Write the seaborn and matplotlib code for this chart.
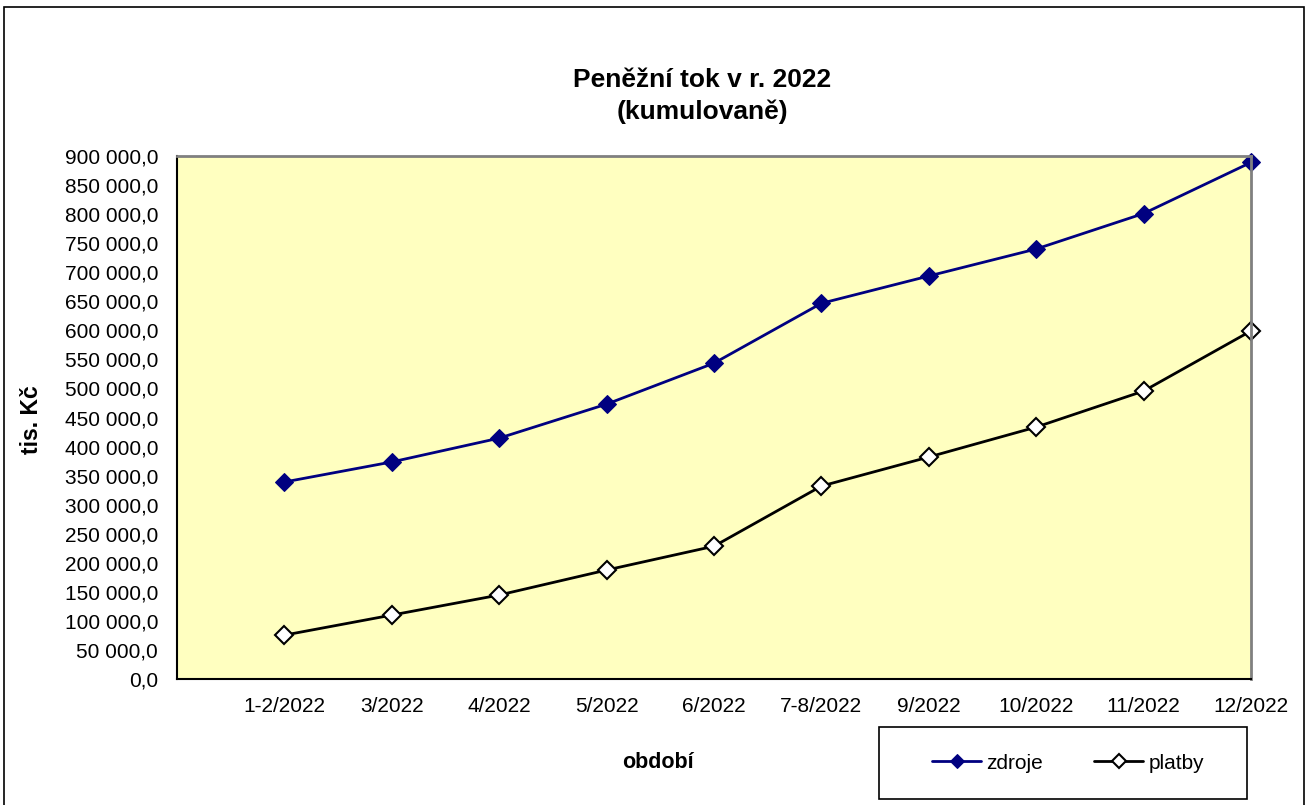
import matplotlib
matplotlib.use('Agg')
import matplotlib.pyplot as plt
import seaborn as sns
import pandas as pd
from matplotlib.patches import Rectangle

# data (tis. Kč, cumulative)
periods = ['1-2/2022', '3/2022', '4/2022', '5/2022', '6/2022',
           '7-8/2022', '9/2022', '10/2022', '11/2022', '12/2022']
zdroje = [339000, 373500, 414500, 473000, 543500, 646500, 693500, 740000, 801000, 889000]
platby = [75500, 110000, 144500, 187500, 228500, 332000, 382000, 433500, 495500, 599000]

df = pd.DataFrame({'pos': range(1, len(periods) + 1), 'zdroje': zdroje, 'platby': platby})

sns.set_style('white')
plt.rcParams['font.family'] = ['Liberation Sans', 'DejaVu Sans']
for key in ['text.color', 'axes.labelcolor', 'xtick.color', 'ytick.color']:
    plt.rcParams[key] = 'black'

fig = plt.figure(figsize=(13.09, 8.05), dpi=100)
ax = fig.add_axes([177 / 1309, 1 - 679 / 805, (1251 - 177) / 1309, (679 - 156) / 805])
ax.set_facecolor('#FFFFC0')

sns.lineplot(data=df, x='pos', y='zdroje', ax=ax, color='#000080', linewidth=2,
             marker='D', markersize=9, markerfacecolor='#000080', markeredgecolor='#000080',
             label='zdroje', clip_on=False)
sns.lineplot(data=df, x='pos', y='platby', ax=ax, color='black', linewidth=2,
             marker='D', markersize=9, markerfacecolor='white', markeredgecolor='black',
             markeredgewidth=1.5, label='platby', clip_on=False)

ax.set_xlim(0, len(periods))
ax.set_ylim(0, 900000)
ax.set_yticks(range(0, 900001, 50000))
ax.set_yticklabels([f'{v:,.1f}'.replace(',', ' ').replace('.', ',') for v in range(0, 900001, 50000)],
                   fontsize=15)
ax.set_xticks(range(0, len(periods) + 1))
ax.set_xticklabels([''] + periods, fontsize=15)
ax.tick_params(axis='y', direction='inout', length=7, width=1.2, color='black', pad=10)
ax.tick_params(axis='x', direction='out', length=6, width=1.2, color='black', pad=7)

for side in ['left', 'bottom']:
    ax.spines[side].set_color('black')
    ax.spines[side].set_linewidth(1.5)
for side in ['top', 'right']:
    ax.spines[side].set_color('#808080')
    ax.spines[side].set_linewidth(2)
    ax.spines[side].set_visible(True)

ax.set_xlabel('období', fontsize=15.5, fontweight='bold')
ax.xaxis.set_label_coords((658 - 177) / (1251 - 177), -(752 - 679) / (679 - 156))
ax.set_ylabel('tis. Kč', fontsize=16.5, fontweight='bold')
ax.yaxis.set_label_coords(-(177 - 43) / (1251 - 177), (679 - 420) / (679 - 156))

fig.text(702 / 1309, 1 - 80 / 805, 'Peněžní tok v r. 2022', ha='center', va='center',
         fontsize=19, fontweight='bold')
fig.text(702 / 1309, 1 - 112 / 805, '(kumulovaně)', ha='center', va='center',
         fontsize=19, fontweight='bold')

leg = fig.legend(loc='center', bbox_to_anchor=(1068 / 1309, 1 - 763 / 805), ncol=2,
                 fontsize=15, frameon=False, handlelength=2.35, markerscale=0.8,
                 columnspacing=2.45, handletextpad=0.25)
ax.get_legend().remove()

# legend box
fig.patches.append(Rectangle((879 / 1309, 1 - 799 / 805), 368 / 1309, 72 / 805,
                             transform=fig.transFigure, fill=False,
                             edgecolor='black', linewidth=1.2))

# chart area border
fig.patches.append(Rectangle((4 / 1309, -0.05), 1300 / 1309, 1.05 - 7 / 805,
                             transform=fig.transFigure, fill=False,
                             edgecolor='black', linewidth=1.2))

fig.savefig('out.png', dpi=100)
